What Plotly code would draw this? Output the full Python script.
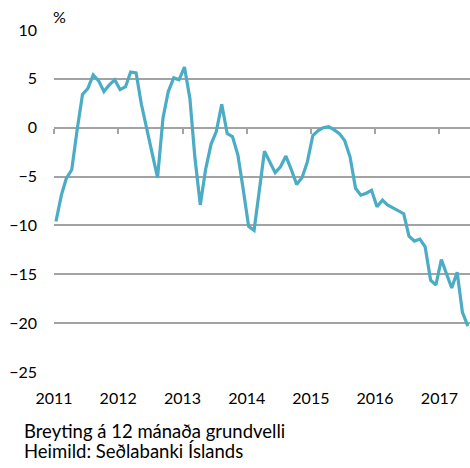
import pandas as pd
import plotly.graph_objects as go

# Monthly values, Jan 2011 - Jun 2017 (% change, 12-month basis)
values_2011 = [-9.6, -6.9, -5.2, -4.3, -0.3, 3.4, 4.0, 5.4, 4.8, 3.7, 4.4, 4.9]
values_2012 = [3.9, 4.2, 5.7, 5.6, 2.4, 0.0, -2.6, -5.1, 1.0, 3.7, 5.1, 4.9]
values_2013 = [6.2, 3.0, -3.0, -7.9, -4.3, -1.7, -0.4, 2.4, -0.6, -0.9, -2.8, -6.3]
values_2014 = [-10.1, -10.5, -6.5, -2.4, -3.5, -4.6, -4.0, -2.9, -4.3, -5.8, -5.1, -3.5]
values_2015 = [-0.8, -0.3, 0.0, 0.1, -0.2, -0.6, -1.3, -3.0, -6.2, -6.9, -6.7, -6.4]
values_2016 = [-8.1, -7.4, -7.9, -8.2, -8.5, -8.8, -11.1, -11.6, -11.4, -12.2, -15.6, -16.1]
values_2017 = [-13.5, -15.0, -16.4, -14.8, -18.9, -20.3]

values = values_2011 + values_2012 + values_2013 + values_2014 + values_2015 + values_2016 + values_2017
dates = pd.date_range("2011-01-01", periods=len(values), freq="MS") + pd.Timedelta(days=11)

year_ticks = [f"{y}-01-01" for y in range(2011, 2018)]
year_labels = [str(y) for y in range(2011, 2018)]
y_ticks = [10, 5, 0, -5, -10, -15, -20, -25]

unit_label = "%"
note_lines = ["Breyting á 12 mánaða grundvelli", "Heimild: Seðlabanki Íslands"]

LINE_COLOR = "#4bacc6"
GRID_COLOR = "#a3a3a3"
FONT = "Lato"

fig = go.Figure()
fig.add_trace(go.Scatter(
    x=dates, y=values, mode="lines",
    line=dict(color=LINE_COLOR, width=3.2),
    showlegend=False, hoverinfo="skip",
))

x_range = ["2011-01-01", "2017-06-24"]

fig.update_layout(
    width=470, height=468,
    margin=dict(l=54, r=0, t=30, b=96),
    paper_bgcolor="white", plot_bgcolor="white",
    font=dict(family=FONT, size=16, color="#000000"),
    xaxis=dict(
        type="date", range=x_range,
        tickvals=year_ticks, ticktext=year_labels,
        showgrid=False, zeroline=False, showline=False,
        ticks="", ticklabelstandoff=15,
        tickfont=dict(family=FONT, size=16, color="#000000"),
    ),
    xaxis2=dict(
        type="date", range=x_range, overlaying="x", anchor="free",
        position=25 / 35, side="bottom",
        tickvals=year_ticks, showticklabels=False,
        ticks="outside", ticklen=5, tickwidth=1.5, tickcolor=GRID_COLOR,
        showgrid=False, zeroline=False, showline=False,
    ),
    yaxis=dict(
        range=[-25, 10], tickvals=y_ticks,
        showgrid=True, gridcolor=GRID_COLOR, gridwidth=1.5,
        zeroline=False, showline=False, ticks="",
        ticklabelstandoff=16,
        tickfont=dict(family=FONT, size=16, color="#000000"),
    ),
)

# helper trace to activate the tick axis at y = 0
fig.add_trace(go.Scatter(x=[dates[0]], y=[None], xaxis="x2", showlegend=False,
                         hoverinfo="skip", mode="lines"))

fig.add_annotation(text=unit_label, xref="paper", yref="paper", x=-0.008, y=1.04,
                   xanchor="left", yanchor="middle", showarrow=False,
                   font=dict(family=FONT, size=16, color="#000000"))
fig.add_annotation(text=note_lines[0], xref="paper", yref="paper", x=-0.077, y=-0.1725,
                   xanchor="left", yanchor="middle", showarrow=False,
                   font=dict(family=FONT, size=18.5, color="#000000"))
fig.add_annotation(text=note_lines[1], xref="paper", yref="paper", x=-0.077, y=-0.232,
                   xanchor="left", yanchor="middle", showarrow=False,
                   font=dict(family=FONT, size=18.5, color="#000000"))

fig.write_html(
    "out.html",
    config={"displayModeBar": False},
    post_script="document.body.style.margin='0';document.body.style.overflow='hidden';",
)
